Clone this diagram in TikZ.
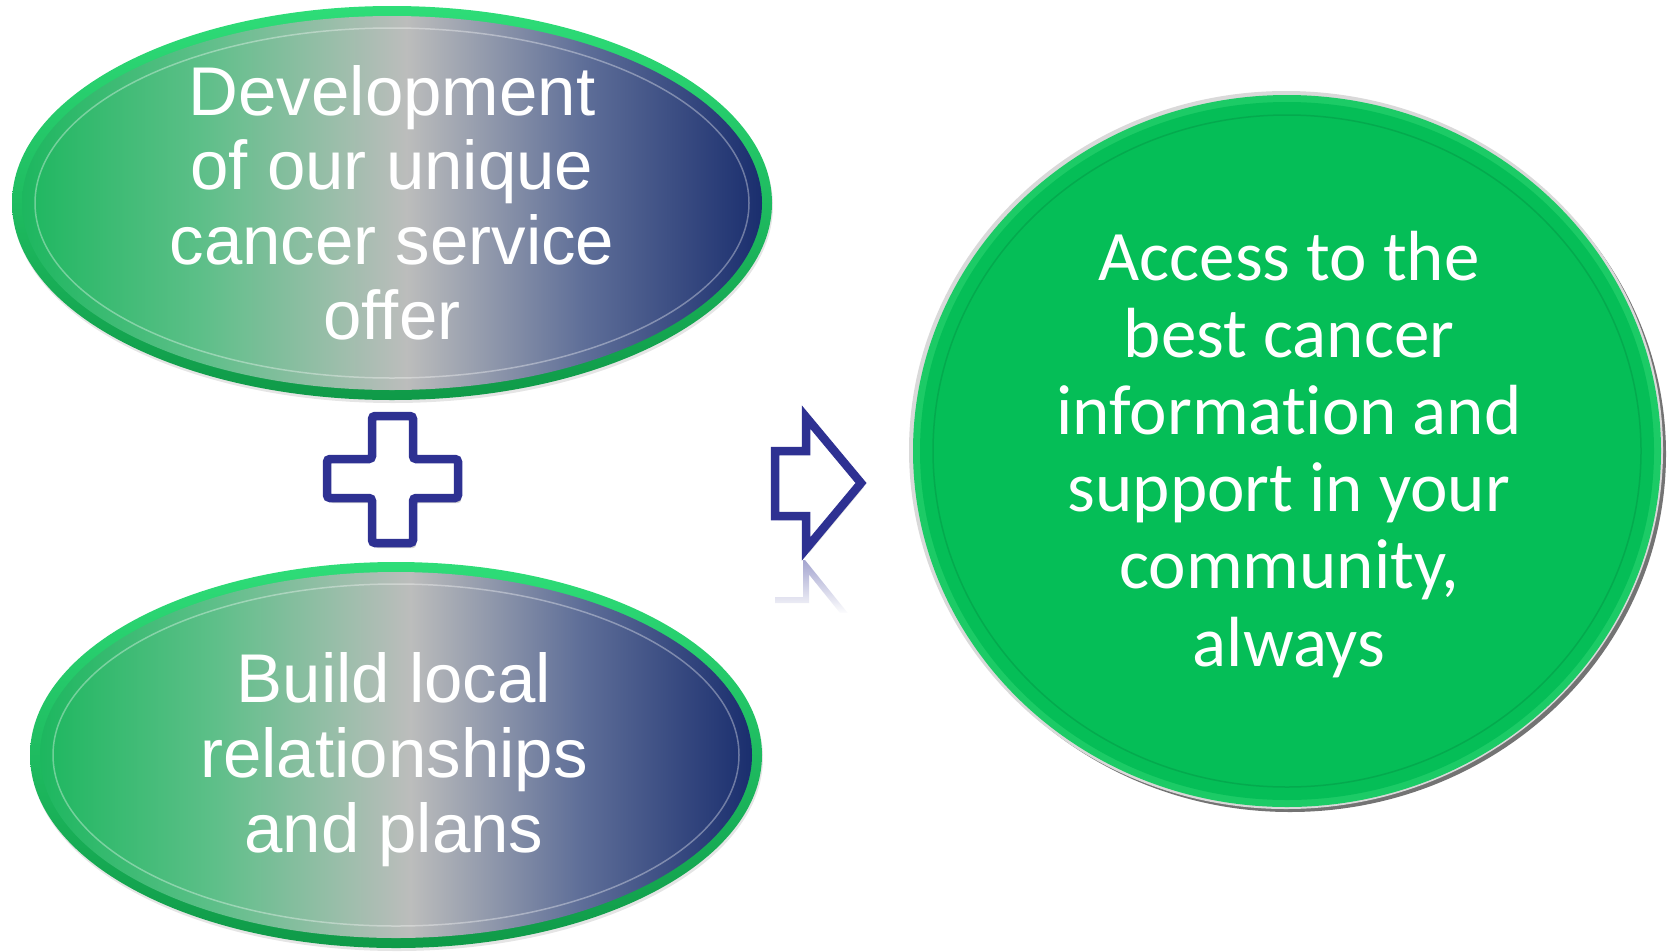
\documentclass[tikz,border=0pt]{standalone}
\usepackage{fontspec}
\setmainfont{Liberation Sans}
\newfontfamily\calib[Ligatures={NoCommon,NoContextual}]{Carlito}
\usetikzlibrary{shadows,fadings}
\definecolor{gA}{HTML}{1DB75F}
\definecolor{gB}{HTML}{5CBF88}
\definecolor{gC}{HTML}{BCBDBC}
\definecolor{gD}{HTML}{5E6E98}
\definecolor{gE}{HTML}{1A2E6E}
\definecolor{rimA}{HTML}{2EDD78}
\definecolor{rimB}{HTML}{0F9A48}
\definecolor{cgreen}{HTML}{05BE57}
\definecolor{crim}{HTML}{1CCB66}
\definecolor{navy}{HTML}{2E3192}
\pgfdeclarehorizontalshading{ellshade}{100bp}{color(0bp)=(gA); color(25bp)=(gA); color(37bp)=(gB); color(51bp)=(gC); color(63bp)=(gD); color(75bp)=(gE); color(100bp)=(gE)}
\tikzset{
  txt/.style={text=white, align=center, inner sep=0pt},
  ellrim/.style={top color=rimA, bottom color=rimB},
  ellfill/.style={shading=ellshade},
  innerline/.style={draw=white, opacity=0.35, line width=1.5pt},
  outline/.style={draw=navy, line width=8.5pt, fill=white},
  soft/.style={fill=black, opacity=0.10},
}
\begin{document}
\begin{tikzpicture}[x=1pt,y=-1pt]
\useasboundingbox (0,0) rectangle (1670,951);

% ---------- top ellipse ----------
\coordinate (e1) at (392,203);
\fill[soft] (393,206) ellipse [x radius=380, y radius=197];
\shade[ellrim] (e1) ellipse [x radius=380, y radius=197];
\shade[ellfill] (e1) ellipse [x radius=370, y radius=187];
\draw[innerline] (e1) ellipse [x radius=357, y radius=175];
\node[txt, anchor=base, font=\fontsize{69}{74.6}\selectfont] (t1) at (392,339)
  {Development\\of our unique\\cancer service\\offer};

% ---------- bottom ellipse ----------
\coordinate (e2) at (396,755);
\fill[soft] (397,758) ellipse [x radius=366, y radius=193];
\shade[ellrim] (e2) ellipse [x radius=366, y radius=193];
\shade[ellfill] (e2) ellipse [x radius=356, y radius=183];
\draw[innerline] (e2) ellipse [x radius=343, y radius=171];
\node[txt, anchor=base, font=\fontsize{69}{74.6}\selectfont] (t2) at (394,852)
  {Build local\\relationships\\and plans};

% ---------- plus ----------
\fill[black, opacity=0.18, rounded corners=3pt, shift={(3,5)}]
  (372,416) -- (413,416) -- (413,459) -- (458,459) -- (458,498) -- (413,498)
  -- (413,543) -- (372,543) -- (372,498) -- (327,498) -- (327,459) -- (372,459) -- cycle;
\draw[outline, rounded corners=3pt]
  (372,416) -- (413,416) -- (413,459) -- (458,459) -- (458,498) -- (413,498)
  -- (413,543) -- (372,543) -- (372,498) -- (327,498) -- (327,459) -- (372,459) -- cycle;

% ---------- arrow ----------
\begin{scope}
  \clip (760,560) rectangle (880,612);
  \draw[navy!45, line width=6pt, miter limit=10]
    (775,600) -- (806,600) -- (806,566) -- (860,633);
\end{scope}
\fill[white, path fading=north] (755,558) rectangle (885,614);
\fill[black, opacity=0.15, shift={(3,4)}]
  (775,451) -- (806,451) -- (806,417) -- (861,483) -- (806,549) -- (806,516) -- (775,516) -- cycle;
\draw[outline, miter limit=10]
  (775,451) -- (806,451) -- (806,417) -- (861,483) -- (806,549) -- (806,516) -- (775,516) -- cycle;

% ---------- circle ----------
\coordinate (c1) at (1287,451);
\fill[black, opacity=0.55] (1290,454) ellipse [x radius=376, y radius=358];
\fill[black!15] (1286,450) ellipse [x radius=377, y radius=359];
\fill[crim] (c1) ellipse [x radius=374, y radius=356];
\fill[cgreen] (c1) ellipse [x radius=367, y radius=349];
\draw[black, opacity=0.10, line width=1.5pt] (c1) ellipse [x radius=354, y radius=336];
\node[txt, anchor=base, font=\calib\fontsize{71}{77.2}\selectfont] (t3) at (1289,666)
  {Access to the\\best cancer\\informat\kern0pt ion and\\support in your\\community,\\always};
\end{tikzpicture}
\end{document}
